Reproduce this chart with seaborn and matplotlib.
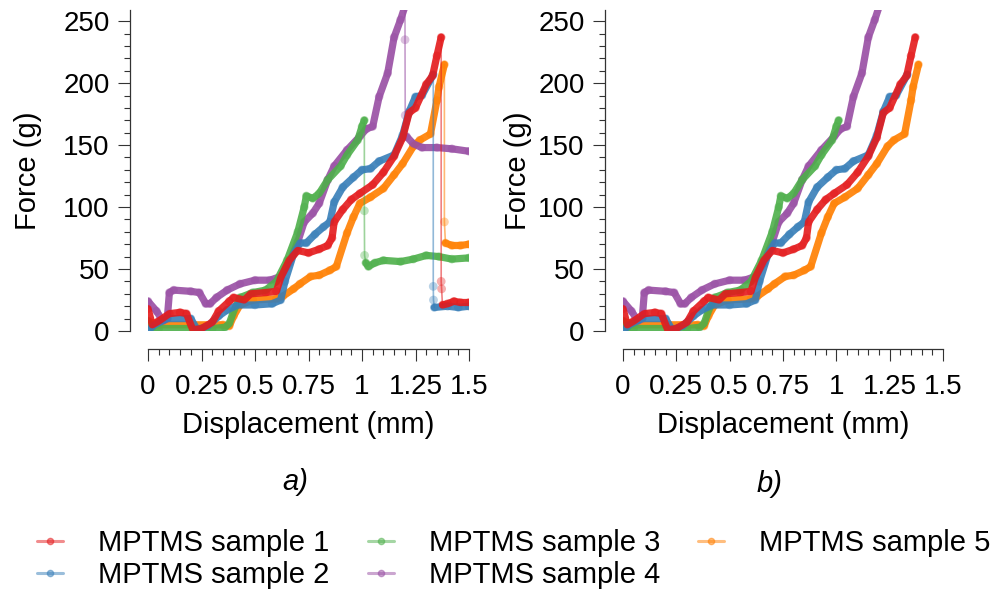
import numpy as np
import pandas as pd
import matplotlib
matplotlib.use("Agg")
import matplotlib.pyplot as plt
from matplotlib.lines import Line2D
from matplotlib.ticker import MultipleLocator
import seaborn as sns

sns.set_style("ticks")
plt.rcParams['font.family'] = ['Liberation Sans', 'DejaVu Sans']
for k in ('text.color', 'axes.labelcolor', 'xtick.labelcolor', 'ytick.labelcolor'):
    plt.rcParams[k] = 'black'

# ==================== DATA ====================
labels = ['MPTMS sample 1', 'MPTMS sample 2', 'MPTMS sample 3', 'MPTMS sample 4', 'MPTMS sample 5']
colors = ['#E41A1C', '#377EB8', '#4DAF4A', '#984EA3', '#FF7F00']

# loading part (up to failure)
s1_x = [0, 0.02, 0.05, 0.10, 0.15, 0.18, 0.20, 0.21, 0.25, 0.30, 0.33, 0.38, 0.40, 0.45, 0.48, 0.55, 0.60, 0.62,
        0.66, 0.70, 0.75, 0.80, 0.84, 0.86, 0.87, 0.91, 0.95, 0.99, 1.05, 1.10, 1.15, 1.19, 1.22, 1.25, 1.30, 1.33,
        1.35, 1.37]
s1_y = [18, 5, 8, 14, 15, 14, 5, 1, 2, 7, 16, 24, 27, 25, 30, 31, 32, 43,
        57, 65, 63, 66, 69, 75, 88, 98, 106, 111, 118, 128, 141, 156, 176, 180, 199, 206,
        222, 237]
s2_x = [0, 0.03, 0.09, 0.20, 0.23, 0.28, 0.33, 0.37, 0.42, 0.50, 0.58, 0.62, 0.64, 0.68, 0.71, 0.74, 0.78, 0.82,
        0.85, 0.87, 0.91, 0.96, 1.00, 1.04, 1.08, 1.15, 1.19, 1.22, 1.25, 1.28, 1.333]
s2_y = [0, 5, 10, 10, 1, 4, 12, 17, 21, 21, 22, 25, 40, 62, 71, 71, 78, 84,
        88, 104, 116, 124, 130, 131, 137, 142, 158, 177, 189, 190, 207]
s3_x = [0, 0.02, 0.05, 0.30, 0.36, 0.38, 0.40, 0.43, 0.49, 0.55, 0.60, 0.65, 0.70, 0.73, 0.74, 0.77, 0.80, 0.84,
        0.90, 0.93, 0.98, 1.00, 1.011]
s3_y = [8, 3, 2, 2, 3, 6, 16, 27, 31, 33, 40, 57, 80, 100, 109, 107, 111, 122,
        133, 142, 154, 165, 170]
s4_x = [0, 0.04, 0.07, 0.09, 0.10, 0.12, 0.20, 0.24, 0.27, 0.29, 0.32, 0.37, 0.43, 0.50, 0.57, 0.62, 0.66, 0.70,
        0.73, 0.77, 0.80, 0.84, 0.87, 0.93, 0.99, 1.02, 1.05, 1.08, 1.12, 1.15, 1.18, 1.201]
s4_y = [24, 16, 8, 10, 31, 33, 32, 31, 22, 22, 27, 33, 38, 41, 41, 44, 55, 72,
        88, 95, 103, 122, 133, 146, 157, 163, 165, 189, 208, 237, 251, 262]
s5_x = [0, 0.05, 0.35, 0.38, 0.40, 0.43, 0.49, 0.60, 0.63, 0.68, 0.71, 0.76, 0.80, 0.85, 0.88, 0.93, 0.96, 0.99,
        1.04, 1.10, 1.15, 1.19, 1.24, 1.27, 1.32, 1.35, 1.36, 1.385]
s5_y = [8, 5, 5, 4, 12, 21, 25, 26, 28, 34, 38, 44, 45, 49, 52, 79, 92, 103,
        108, 115, 126, 135, 149, 154, 159, 186, 197, 215]

# failure drop
d1_x = [1.37, 1.37, 1.372, 1.376]
d1_y = [237, 40, 34, 21]
d2_x = [1.333, 1.333, 1.334, 1.338]
d2_y = [207, 36, 25, 19]
d3_x = [1.011, 1.011, 1.012, 1.018]
d3_y = [170, 97, 61, 55]
d4_x = [1.201, 1.201, 1.202, 1.208]
d4_y = [262, 235, 174, 157]
d5_x = [1.385, 1.385, 1.39]
d5_y = [215, 88, 71]

# after failure
p1_x = [1.376, 1.40, 1.43, 1.46, 1.50]
p1_y = [21, 22, 24, 23, 23]
p2_x = [1.338, 1.40, 1.45, 1.50]
p2_y = [19, 20, 19, 20]
p3_x = [1.018, 1.03, 1.06, 1.10, 1.18, 1.24, 1.30, 1.36, 1.42, 1.50]
p3_y = [55, 52, 55, 57, 56, 58, 61, 60, 58, 59]
p4_x = [1.208, 1.24, 1.28, 1.35, 1.42, 1.50]
p4_y = [157, 151, 148, 148, 147, 145]
p5_x = [1.39, 1.42, 1.46, 1.50]
p5_y = [71, 69, 69, 70]

load = [(s1_x, s1_y), (s2_x, s2_y), (s3_x, s3_y), (s4_x, s4_y), (s5_x, s5_y)]
drop = [(d1_x, d1_y), (d2_x, d2_y), (d3_x, d3_y), (d4_x, d4_y), (d5_x, d5_y)]
post = [(p1_x, p1_y), (p2_x, p2_y), (p3_x, p3_y), (p4_x, p4_y), (p5_x, p5_y)]

FS = 21

fig = plt.figure(figsize=(9.97, 5.93), dpi=100)
ax_a = fig.add_axes([148 / 997, 262 / 593, 321 / 997, 321 / 593])
ax_b = fig.add_axes([623 / 997, 262 / 593, 320 / 997, 321 / 593])


def thick(ax, xs, ys, c):
    sns.lineplot(x=xs, y=ys, ax=ax, color=c, lw=5.2, alpha=0.9, sort=False, estimator=None,
                 solid_capstyle='round', solid_joinstyle='round')
    sns.scatterplot(x=xs, y=ys, ax=ax, color=c, s=38, alpha=0.45, edgecolor='none')


# draw sample 5 first so sample 1 ends up on top
for i in [4, 3, 2, 1, 0]:
    c = colors[i]
    for ax in (ax_a, ax_b):
        thick(ax, *load[i], c)
    sns.lineplot(x=drop[i][0], y=drop[i][1], ax=ax_a, color=c, lw=1.2, alpha=0.55, sort=False, estimator=None)
    sns.scatterplot(x=drop[i][0][1:-1], y=drop[i][1][1:-1], ax=ax_a, color=c, s=40, alpha=0.35, edgecolor='none')
    thick(ax_a, *post[i], c)

ylab_x = {ax_a: -0.33, ax_b: -0.285}
for ax in (ax_a, ax_b):
    ax.set_xlim(0, 1.5)
    ax.set_ylim(0, 259)
    ax.spines['top'].set_visible(False)
    ax.spines['right'].set_visible(False)
    for s in ('left', 'bottom'):
        ax.spines[s].set_position(('outward', 13))
        ax.spines[s].set_color('#333333')
        ax.spines[s].set_linewidth(0.9)
    ax.set_xticks([0, 0.25, 0.5, 0.75, 1, 1.25, 1.5])
    ax.set_xticklabels(['0', '0.25', '0.5', '0.75', '1', '1.25', '1.5'])
    ax.set_yticks([0, 50, 100, 150, 200, 250])
    ax.xaxis.set_minor_locator(MultipleLocator(0.05))
    ax.yaxis.set_minor_locator(MultipleLocator(10))
    ax.tick_params(which='major', direction='out', length=8.6, width=0.8, color='#333333', labelsize=20)
    ax.tick_params(which='minor', direction='out', length=4.3, width=0.8, color='#333333')
    ax.tick_params(axis='y', pad=6)
    ax.tick_params(axis='x', pad=9)
    ax.set_xlabel('Displacement (mm)', fontsize=FS)
    ax.set_ylabel('Force (g)', fontsize=FS)
    ax.xaxis.set_label_coords(0.5, -0.25)
    ax.yaxis.set_label_coords(ylab_x[ax], 0.5)
    ax.set_facecolor('white')

fig.text(295 / 997, 1 - 482 / 593, 'a)', fontsize=FS, style='italic', ha='center', va='center')
fig.text(770 / 997, 1 - 484 / 593, 'b)', fontsize=FS, style='italic', ha='center', va='center')

handles = [Line2D([0], [0], color=c, lw=2.2, alpha=0.5, marker='o', markersize=4.5) for c in colors]
fig.legend(handles, labels, ncol=3, loc='center left', bbox_to_anchor=(37 / 997, 1 - 559 / 593),
           frameon=False, fontsize=FS, handlelength=0.9, handletextpad=1.2, columnspacing=1.3,
           labelspacing=0.14, borderpad=0, borderaxespad=0)

fig.savefig('out.png', dpi=100)
